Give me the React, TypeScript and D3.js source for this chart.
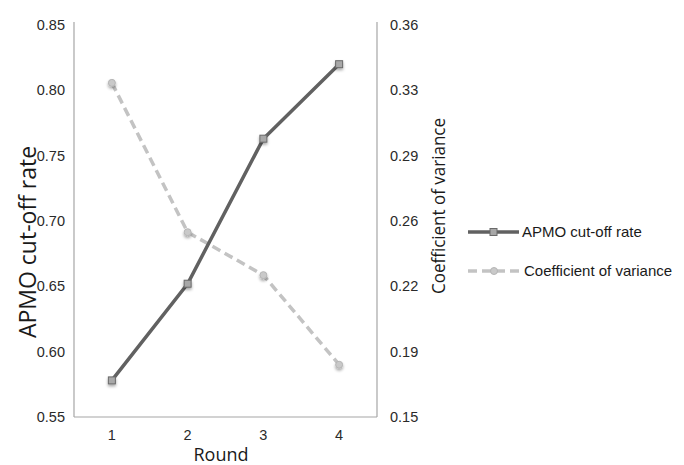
import React from "react";
import * as d3 from "d3";

const rounds = ["1", "2", "3", "4"];
const apmo = [0.578, 0.652, 0.763, 0.82];
const cv = [0.329, 0.249, 0.226, 0.178];
const leftTicks = [0.55, 0.6, 0.65, 0.7, 0.75, 0.8, 0.85];
const rightTicks = [0.15, 0.185, 0.22, 0.255, 0.29, 0.325, 0.36];
const rightTickLabels = ["0.15", "0.19", "0.22", "0.26", "0.29", "0.33", "0.36"];

const W = 684, H = 465;
const L = 74, R = 377, T = 25, B = 417;

export default function App() {
  const x = d3.scaleBand().domain(rounds).range([L, R]);
  const yL = d3.scaleLinear().domain([0.55, 0.85]).range([B, T]);
  const yR = d3.scaleLinear().domain([0.15, 0.36]).range([B, T]);
  const cx = (r: string) => (x(r) as number) + x.bandwidth() / 2;
  const lineL = d3.line<number>().x((_, i) => cx(rounds[i])).y((d) => yL(d));
  const lineR = d3.line<number>().x((_, i) => cx(rounds[i])).y((d) => yR(d));
  const tickFont = "'Liberation Sans', Arial, sans-serif";
  const titleFont = "'Open Sans', 'Noto Sans', sans-serif";
  const dark = "#616161";
  const light = "#c3c3c3";
  return (
    <svg width={W} height={H} style={{ position: "absolute", left: 0, top: 0, background: "#fff" }}>
      <defs>
        <filter id="sh" x="-1" y="-1" width="3" height="3">
          <feGaussianBlur in="SourceAlpha" stdDeviation="1.5" />
          <feOffset dx="0" dy="2" result="b" />
          <feComponentTransfer><feFuncA type="linear" slope="0.35" /></feComponentTransfer>
          <feMerge><feMergeNode /><feMergeNode in="SourceGraphic" /></feMerge>
        </filter>
      </defs>
      <line x1={L} y1={T - 3} x2={L} y2={B} stroke="#a6a6a6" strokeWidth={1.2} />
      <line x1={R} y1={T - 3} x2={R} y2={B} stroke="#a6a6a6" strokeWidth={1.2} />
      <line x1={L} y1={B} x2={R} y2={B} stroke="#a6a6a6" strokeWidth={1.2} />
      {leftTicks.map((t) => (
        <text key={t} x={65} y={yL(t)} dy="0.35em" textAnchor="end" fontFamily={tickFont} fontSize={14.5} fill="#2a2a2a">
          {t.toFixed(2)}
        </text>
      ))}
      {rightTicks.map((t, i) => (
        <text key={t} x={390} y={yR(t)} dy="0.35em" textAnchor="start" fontFamily={tickFont} fontSize={14.5} fill="#2a2a2a">
          {rightTickLabels[i]}
        </text>
      ))}
      {rounds.map((r) => (
        <text key={r} x={cx(r)} y={435} dy="0.35em" textAnchor="middle" fontFamily={tickFont} fontSize={14.5} fill="#2a2a2a">
          {r}
        </text>
      ))}
      <text x={221} y={461} textAnchor="middle" fontFamily={titleFont} fontSize={18} fill="#1a1a1a">Round</text>
      <text transform={`translate(36,242) rotate(-90)`} textAnchor="middle" fontFamily={titleFont} fontSize={23} fill="#1a1a1a">APMO cut-off rate</text>
      <text transform={`translate(445,206) rotate(-90)`} textAnchor="middle" fontFamily={titleFont} fontSize={18} fill="#1a1a1a" textLength={176} lengthAdjust="spacingAndGlyphs">Coefficient of variance</text>
      <path d={lineR(cv) || ""} fill="none" stroke={light} strokeWidth={3.5} strokeDasharray="9 5" />
      <path d={lineL(apmo) || ""} fill="none" stroke={dark} strokeWidth={3.5} />
      {cv.map((v, i) => (
        <circle key={i} cx={cx(rounds[i])} cy={yR(v)} r={3.5} fill="#c9c9c9" stroke="#b5b5b5" strokeWidth={1} filter="url(#sh)" />
      ))}
      {apmo.map((v, i) => (
        <rect key={i} x={cx(rounds[i]) - 3.5} y={yL(v) - 3.5} width={7} height={7} fill="#a8a8a8" stroke="#6a6a6a" strokeWidth={1} filter="url(#sh)" />
      ))}
      <line x1={468} y1={232} x2={519} y2={232} stroke={dark} strokeWidth={3.5} />
      <rect x={490} y={228.5} width={7} height={7} fill="#a8a8a8" stroke="#6a6a6a" strokeWidth={1} />
      <text x={522} y={232} dy="0.35em" fontFamily={tickFont} fontSize={15} fill="#1a1a1a">APMO cut-off rate</text>
      <line x1={468} y1={271} x2={519} y2={271} stroke={light} strokeWidth={3.5} strokeDasharray="9 5" />
      <circle cx={494} cy={271} r={3.5} fill="#c9c9c9" stroke="#b5b5b5" strokeWidth={1} />
      <text x={524} y={271} dy="0.35em" fontFamily={tickFont} fontSize={15} fill="#1a1a1a">Coefficient of variance</text>
    </svg>
  );
}
